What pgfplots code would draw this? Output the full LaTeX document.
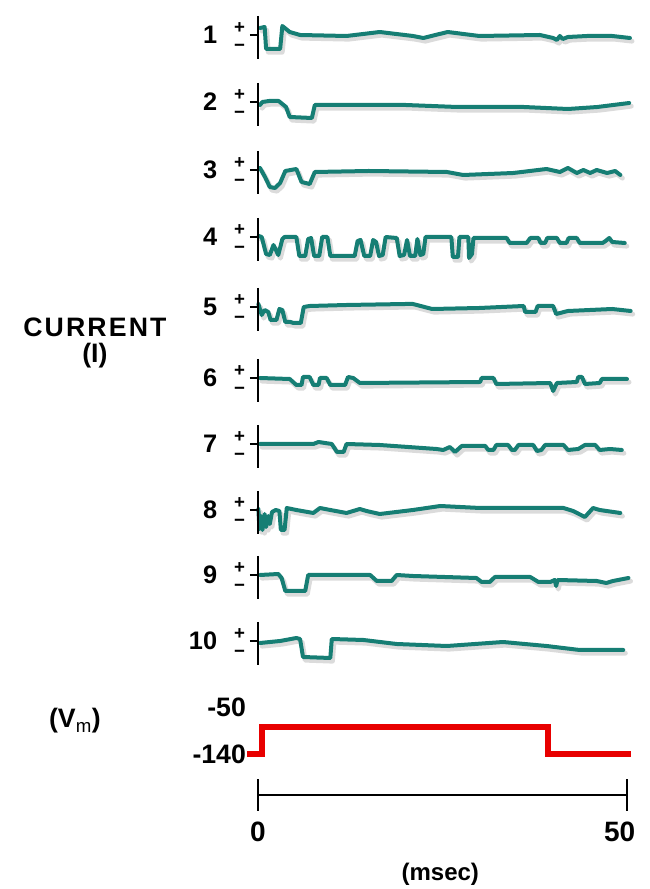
\documentclass[border=0pt]{standalone}
\usepackage{pgfplots}
\pgfplotsset{compat=1.18}
\usepackage{fontspec}
\setmainfont{Liberation Sans}
\newfontfamily\lblfont[LetterSpace=8]{Liberation Sans}

\definecolor{tealtr}{RGB}{22,126,116}
\definecolor{steprd}{RGB}{232,0,0}

% one channel record: offsets (px-like units, down = inward current) around its baseline
\pgfplotsset{
  chan/.style={color=tealtr, line width=3.0pt, line join=round, line cap=round, no markers,
    preaction={draw=black!14, line width=3.6pt, transform canvas={xshift=1.6pt,yshift=-2.4pt}},
    y filter/.expression={y+#1}},
}

% trace number, +/- marks and the small zero-current bar
\newcommand{\chanlabel}[2]{%
  \node[anchor=east, font=\bfseries\fontsize{19}{19}\selectfont] at (axis cs:-4.9,#2) {#1};
  \node[inner sep=0pt, align=center, font=\bfseries\fontsize{14}{13.5}\selectfont]
    at (axis cs:-2.5,{#2-2}) {+\\−};
  \draw[line width=1.5pt] (axis cs:0,{#2+19}) -- (axis cs:0,{#2-24});
  \draw[line width=1.5pt] (axis cs:-1.1,#2) -- (axis cs:0,#2);
}

\begin{document}
\begin{tikzpicture}
\begin{axis}[
    name=main,
    width=487.5pt, height=666.75pt, scale only axis,
    hide axis, clip=false,
    xmin=-34.96, xmax=53.12,
    ymin=0, ymax=889,
]
% channel 1
\addplot[chan=854] coordinates {
 (0.27,7)(0.9,8)(1.1,-14)(3.0,-14)(3.3,9)(4.3,3)(5.7,0)(12,-1)(16.5,3)(21,-1)(22.4,-3)
 (25.7,3)(30,-1)(38.2,0)(40,-3)(40.5,-5)(40.9,-1)(41.3,-4)(42,-2)(44.6,-1)(48,-1)(50.4,-3)};
% channel 2
\addplot[chan=787] coordinates {
 (0.27,-3)(0.6,0)(1.5,1)(2.8,1)(3.8,-5)(4.3,-15)(7.3,-16)(7.7,-3)(12,-3)(20,-3)(27,-5)
 (36,-5)(42,-7)(46,-5)(50.3,-1)};
% channel 3
\addplot[chan=719] coordinates {
 (0.27,2)(0.95,-7)(1.6,-17)(2.3,-18)(3.0,-13)(3.7,-1)(5.2,1)(5.9,-12)(7.0,-14)(7.7,-2)
 (15,-1)(25.6,-2)(27.8,-5)(34.6,-3)(39.1,1)(40.9,-2)(42,2)(43.2,-3)(44.1,0)(45,-3)
 (45.9,0)(47.3,-3)(48.4,-1)(49.1,-5)};
% channel 4
\addplot[chan=652] coordinates {
 (0.1,1)(0.5,0)(1.1,-17)(1.6,-18)(2.1,-8)(2.75,-18)(3.3,-2)(3.6,0)(5.2,0)(5.6,-19)
 (6.4,-19)(6.8,-2)(7.2,-1)(7.6,-19)(8.3,-19)(8.7,0)(9.4,0)(9.8,-19)(13.1,-19)(13.5,-4)
 (13.9,-3)(14.4,-19)(15.2,-19)(15.6,-3)(16.0,-5)(16.4,-19)(16.9,-18)(17.3,0)(18.8,-1)
 (19.2,-19)(19.8,-18)(20.2,-3)(20.6,-19)(21.3,-19)(21.6,-2)(22.0,-18)(22.4,-17)(22.7,0)
 (26.2,0)(26.4,-20)(27.1,-20)(27.3,0)(28.5,0)(28.6,-21)(29.0,-17)(29.2,-1)(33.7,-1)
 (34.1,-6)(36.4,-6)(36.9,-1)(38.0,-1)(38.3,-6)(38.9,-6)(39.2,-1)(40.5,-1)(40.9,-6)
 (41.8,-6)(42.1,-1)(43.2,-1)(43.6,-6)(46.7,-6)(47.1,-4)(47.6,-1)(48.0,-5)(49.7,-6)};
% channel 5
\addplot[chan=582] coordinates {
 (0.05,3)(0.5,-8)(0.9,-3)(1.4,-5)(1.7,-13)(2.5,-13)(2.9,-2)(3.3,-3)(3.7,-15)(4.4,-15)
 (4.8,-16)(5.8,-16)(6.2,0)(7,1)(12,2)(20,3)(21,3)(23.6,-2)(30,-1)(36,1)(36.2,-5)
 (37.6,-5)(37.9,1)(40,1)(40.4,-7)(42,-4)(45,-3)(48,-2)(50.5,-4)};
% channel 6
\addplot[chan=511] coordinates {
 (0.27,0)(4.3,-1)(5.2,-7)(5.9,-7)(6.1,1)(7.0,1)(7.5,-7)(8.2,-7)(8.4,0)(9.3,0)(9.8,-7)
 (11.8,-7)(12.2,1)(12.9,0)(13.8,-5)(30.1,-4)(30.3,0)(31.9,0)(32.3,-6)(39.6,-5)(40.0,-13)
 (40.5,-5)(43.2,-4)(43.4,1)(43.9,1)(44.3,-6)(46.3,-5)(46.6,-1)(50,-1)};
% channel 7
\addplot[chan=445] coordinates {
 (0.27,0)(7.5,0)(8.2,2)(10,0)(10.7,-8)(11.6,-8)(12,0)(16.5,-1)(24.2,-5)(25.1,-6)(26,-3)
 (26.7,-8)(27.6,-2)(30.8,-2)(31.2,-6)(31.9,-6)(32.3,-1)(33.9,-1)(34.4,-6)(34.8,-6)
 (35.3,-1)(37.3,-1)(37.8,-7)(38.4,-6)(38.9,-1)(41.4,-1)(42,-6)(43.4,-5)(44.3,-1)
 (45.7,-1)(46.3,-6)(47.7,-5)(49.3,-6)};
% channel 8
\addplot[chan=379] coordinates {
 (0.05,1)(0.2,-19)(0.4,-6)(0.6,-20)(0.9,-4)(1.1,-17)(1.4,-6)(1.6,-14)(1.9,-2)(2.4,0)
 (2.9,-1)(3.1,-20)(3.6,-20)(3.9,2)(5.2,0)(7.5,-3)(8.4,2)(9.8,0)(12,-3)(13.8,1)(14.7,-1)
 (16.5,-4)(21,0)(24.7,4)(30.1,2)(41.4,2)(42.7,-1)(44.3,-7)(45.4,2)(46.3,0)(49.1,-3)};
% channel 9
\addplot[chan=314] coordinates {
 (0.27,0)(2.75,1)(3.2,-3)(3.7,-16)(6.4,-16)(6.8,0)(15.2,0)(16.1,-6)(18.1,-6)(18.8,0)
 (21,-1)(29.6,-3)(30.3,-7)(31.4,-7)(32.1,-2)(36.9,-2)(38,-7)(39.6,-7)(40.2,-5)(40.4,-11)
 (40.6,-5)(45.9,-6)(47.2,-8)(48.1,-6)(50.2,-3)};
% channel 10
\addplot[chan=248] coordinates {
 (0.27,-2)(3.0,0)(5.2,3)(5.7,2)(6.1,-16)(9.8,-17)(10,2)(14.3,1)(18.8,-3)(25.6,-5)
 (33.2,-1)(39.1,-5)(43.6,-9)(49.5,-9)};

% voltage step, mV mapped onto the lower strip
\addplot[color=steprd, line width=4.4pt, line join=miter, no markers,
  y filter/.expression={135+0.3*(y+140)}] coordinates {
 (-1.5,-140)(0.55,-140)(0.55,-50)(39.3,-50)(39.3,-140)(50.5,-140)};

\chanlabel{1}{854}
\chanlabel{2}{787}
\chanlabel{3}{719}
\chanlabel{4}{652}
\chanlabel{5}{582}
\chanlabel{6}{511}
\chanlabel{7}{445}
\chanlabel{8}{379}
\chanlabel{9}{314}
\chanlabel{10}{248}

\node[font=\lblfont\bfseries\fontsize{20}{20}\selectfont] at (axis cs:-22.1,562) {CURRENT};
\node[font=\bfseries\fontsize{20}{20}\selectfont] at (axis cs:-22.1,533) {(I)};
\node[font=\bfseries\fontsize{20}{20}\selectfont] at (axis cs:-24.8,168) {(V$_{\mathrm{m}}$)};
\node[anchor=east, font=\bfseries\fontsize{20}{20}\selectfont] at (axis cs:-1.0,182) {-50};
\node[anchor=east, font=\bfseries\fontsize{20}{20}\selectfont] at (axis cs:-1.0,135) {-140};

% time scale bar
\draw[line width=1.5pt] (axis cs:0,94) -- (axis cs:50,94);
\draw[line width=1.5pt] (axis cs:0,78) -- (axis cs:0,110);
\draw[line width=1.5pt] (axis cs:50,78) -- (axis cs:50,110);
\node[font=\bfseries\fontsize{21}{21}\selectfont] at (axis cs:0,57) {0};
\node[font=\bfseries\fontsize{21}{21}\selectfont] at (axis cs:49,57) {50};
\node[font=\bfseries\fontsize{18}{18}\selectfont] at (axis cs:24.7,15) {(msec)};
\end{axis}
\pgfresetboundingbox
\path (main.south west) rectangle (main.north east);
\end{tikzpicture}
\end{document}
